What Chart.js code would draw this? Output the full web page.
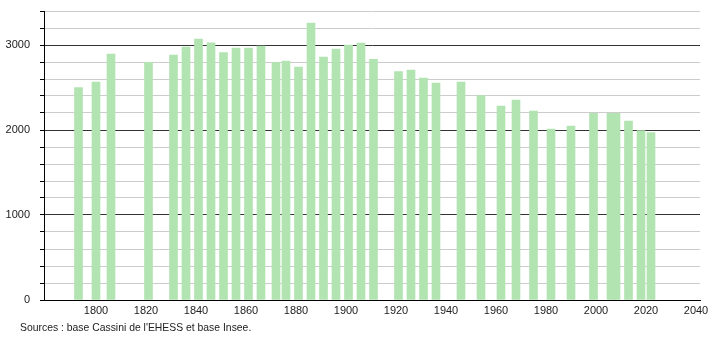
<!DOCTYPE html>
<html>
<head>
<meta charset="utf-8">
<script src="https://cdn.jsdelivr.net/npm/chart.js@4/dist/chart.umd.min.js"></script>
<style>
    html, body { margin: 0; padding: 0; background: #fff; }
    #wrap { width: 710px; height: 340px; position: relative; }
</style>
</head>
<body>
<div id="wrap"><canvas id="popChart" width="710" height="340"></canvas></div>
<script>
// Census years and population
const years = [1793, 1800, 1806, 1821, 1831, 1836, 1841, 1846, 1851, 1856,
    1861, 1866, 1872, 1876, 1881, 1886, 1891, 1896, 1901, 1906,
    1911, 1921, 1926, 1931, 1936, 1946, 1954, 1962, 1968, 1975,
    1982, 1990, 1999, 2006, 2008, 2013, 2018, 2022];
const population = [2500, 2565, 2894, 2796, 2882, 2976, 3071, 3027, 2910, 2965,
    2965, 2988, 2796, 2812, 2741, 3259, 2859, 2953, 3000, 3024,
    2831, 2686, 2706, 2612, 2553, 2565, 2404, 2282, 2353, 2224,
    2012, 2047, 2196, 2196, 2196, 2106, 1992, 1969];
const xTicks = [1800, 1820, 1840, 1860, 1880, 1900, 1920, 1940, 1960, 1980, 2000, 2020, 2040];
const sourceText = "Sources : base Cassini de l'EHESS et base Insee.";

const FONT = '"Liberation Sans", Arial, sans-serif';

// Source line under the chart
const sourcePlugin = {
    id: 'source',
    afterDraw(chart) {
        const ctx = chart.ctx;
        ctx.save();
        ctx.font = '10.4px ' + FONT;
        ctx.fillStyle = '#222';
        ctx.textBaseline = 'middle';
        ctx.fillText(sourceText, 20, 328);
        ctx.restore();
    }
};

new Chart(document.getElementById('popChart'), {
    type: 'bar',
    data: {
        datasets: [{
            data: years.map((y, i) => ({ x: y, y: population[i] })),
            backgroundColor: 'rgb(178, 228, 178)',
            borderWidth: 0,
            barThickness: 8
        }]
    },
    options: {
        responsive: false,
        animation: false,
        layout: { padding: { top: 11, right: 10, left: 0, bottom: 0 } },
        plugins: {
            legend: { display: false },
            tooltip: { enabled: false }
        },
        scales: {
            x: {
                type: 'linear',
                offset: false,
                min: 1779.2,
                max: 2041.6,
                afterBuildTicks: scale => { scale.ticks = xTicks.map(v => ({ value: v })); },
                afterFit: scale => { scale.height = 40; scale.paddingLeft = 0; scale.paddingRight = 0; },
                grid: { display: false, drawTicks: false, offset: false },
                border: { color: '#000', width: 1 },
                ticks: {
                    font: { family: FONT, size: 11 },
                    color: '#222',
                    padding: 4,
                    maxRotation: 0,
                    autoSkip: false,
                    callback: v => String(v)
                }
            },
            y: {
                min: 0,
                max: 3400,
                afterFit: scale => { scale.width = 44; scale.paddingTop = 0; scale.paddingBottom = 0; },
                grid: {
                    color: ctx => (ctx.tick && ctx.tick.value % 1000 === 0) ? '#333' : '#ccc',
                    tickColor: '#000',
                    tickLength: 4,
                    lineWidth: 1
                },
                border: { color: '#000', width: 1 },
                ticks: {
                    stepSize: 200,
                    font: { family: FONT, size: 11 },
                    color: '#222',
                    padding: 10,
                    autoSkip: false,
                    callback: v => (v % 1000 === 0 ? String(v) : '')
                }
            }
        }
    },
    plugins: [sourcePlugin]
});
</script>
</body>
</html>
